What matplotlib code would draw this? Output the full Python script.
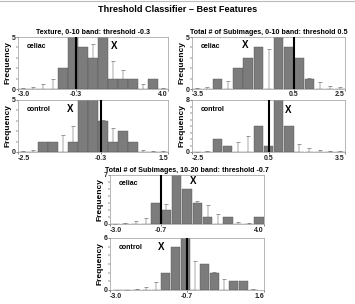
import numpy as np
import matplotlib
matplotlib.use("Agg")
import matplotlib.pyplot as plt

plt.rcParams['font.family'] = ['Liberation Sans', 'DejaVu Sans']
plt.rcParams['font.weight'] = 'bold'
plt.rcParams['axes.titleweight'] = 'bold'
plt.rcParams['axes.labelweight'] = 'bold'

# ---- data (15 histogram bins per panel) ----
# texture, 0-10 band
tex_cel_bar = [0, 0, 0, 0, 2, 5, 4, 3, 5, 1, 1, 1, 0, 1, 0]
tex_cel_thin = [0.05, 0.15, 0.5, 1.0, 0, 0, 0, 4.3, 0, 2.7, 1.8, 0, 0.5, 0, 0.1]
tex_con_bar = [0, 0, 1, 1, 0, 1, 5, 5, 3, 1, 2, 1, 0, 0, 0]
tex_con_thin = [0.05, 0.15, 0, 0, 1.6, 2.5, 0, 0, 3.1, 2.3, 0, 0, 0.2, 0.05, 0.05]

# total # of subimages, 0-10 band
sub_cel_bar = [0, 0, 1, 0, 2, 3, 4, 0, 5, 4, 3, 1, 0, 0, 0]
sub_cel_thin = [0.05, 0.2, 0, 0.8, 0, 0, 0, 3.8, 0, 0, 0, 1.1, 0.7, 0.3, 0.2]
sub_con_bar = [0, 0, 2, 1, 0, 0, 4, 1, 8, 4, 0, 0, 0, 0, 0]
sub_con_thin = [0.05, 0.1, 0, 0, 1.6, 2.4, 0, 0, 0, 0, 1.3, 0.6, 0.3, 0.15, 0.15]

# total # of subimages, 10-20 band
sub2_cel_bar = [0, 0, 0, 0, 3, 2, 7, 5, 3, 1, 0, 1, 0, 0, 1]
sub2_cel_thin = [0.05, 0.2, 0.4, 0.9, 0, 2.9, 0, 0, 3.3, 2.7, 1.5, 0, 0.25, 0.1, 0]
sub2_con_bar = [0, 0, 0, 0, 0, 2, 5, 6, 0, 3, 2, 0, 1, 1, 0]
sub2_con_thin = [0.05, 0.05, 0.15, 0.4, 0.9, 0, 0, 0, 3.4, 0, 2.1, 1.3, 0, 0, 0.1]

titles = ["Texture, 0-10 band: threshold -0.3",
          "Total # of Subimages, 0-10 band: threshold 0.5",
          "Total # of Subimages, 10-20 band: threshold -0.7"]

# panel: (bars, thin bars, xlim, bin start, bin width, threshold, ymax, label, X mark)
panels = [
    (tex_cel_bar, tex_cel_thin, (-3.0, 4.0), -3.0, 7 / 15, -0.3, 5, "celiac", (1.5, 4.1)),
    (tex_con_bar, tex_con_thin, (-2.5, 1.5), -2.5, 4 / 15, -0.3, 5, "control", (-1.12, 4.1)),
    (sub_cel_bar, sub_cel_thin, (-3.5, 2.5), -3.5, 6 / 15, 0.5, 5, "celiac", (-1.41, 4.2)),
    (sub_con_bar, sub_con_thin, (-2.5, 3.5), -2.5, 6 / 15, 0.5, 8, "control", (1.26, 6.4)),
    (sub2_cel_bar, sub2_cel_thin, (-3.0, 4.0), -3.0, 7 / 15, -0.7, 7, "celiac", (0.78, 6.1)),
    (sub2_con_bar, sub2_con_thin, (-3.0, 1.6), -2.93, 0.29, -0.7, 6, "control", (-1.46, 5.0)),
]

W, H = 355, 304
fig = plt.figure(figsize=(W / 100, H / 100), dpi=100)

# axes boxes in pixels: left, top, right, bottom
boxes = [(18, 37, 168, 89), (18, 100, 168, 152),
         (192, 37, 345, 89), (192, 100, 345, 152),
         (110, 175, 264, 224), (110, 238, 264, 290)]

axes = []
for (l, t, r, b) in boxes:
    axes.append(fig.add_axes([l / W, 1 - b / H, (r - l) / W, (b - t) / H]))

for ax, (bars, thin, xlim, start, width, thr, ymax, label, xm) in zip(axes, panels):
    centers = start + width * (np.arange(len(bars)) + 0.5)
    bars = np.array(bars, dtype=float)
    thin = np.array(thin, dtype=float)
    m = thin > 0
    # thin bars sit behind the class histogram
    ax.vlines(centers[m], 0, thin[m], color='#c8c8c8', lw=1.1, zorder=1)
    ax.scatter(centers[m], thin[m], marker='_', s=6, color='#8a8a8a',
               linewidths=0.6, zorder=1.5)
    ax.bar(centers, bars, width=width * 0.92, color='#7c7c7c',
           edgecolor='#555555', linewidth=0.3, zorder=2)
    ax.axvline(thr, color='black', lw=1.5, zorder=5)
    ax.set_xlim(*xlim)
    ax.set_ylim(0, ymax)
    ax.set_xticks([xlim[0], thr, xlim[1]])
    ax.set_xticklabels([f"{xlim[0]:.1f}", f"{thr:.1f}", f"{xlim[1]:.1f}"])
    xt = ax.get_xticklabels()
    xt[0].set_ha('left')
    xt[-1].set_ha('right')
    ax.set_yticks([0, ymax])
    ax.set_yticks(range(1, ymax), minor=True)
    ax.tick_params(axis='both', labelsize=5, length=1.5, width=0.4, pad=0.3,
                   colors='#222222')
    ax.tick_params(axis='y', which='minor', length=1.2, width=0.3)
    for s in ax.spines.values():
        s.set_color('#9a9a9a')
        s.set_linewidth(0.5)
    ax.set_ylabel("Frequency", fontsize=6, labelpad=0.3)
    ax.text(0.06, 0.82, label, transform=ax.transAxes, fontsize=5,
            va='center', ha='left')
    ax.text(xm[0], xm[1], "X", fontsize=7, ha='center', va='center')

for ax, title in zip(axes[0::2], titles):
    ax.set_title(title, fontsize=5.1, pad=2.2)

fig.text(0.5, 1 - 10 / H, "Threshold Classifier \u2013 Best Features",
         ha='center', va='center', fontsize=6.6)
fig.add_artist(plt.Line2D([0, 1], [1 - 1 / H, 1 - 1 / H], color='#bbbbbb',
                          lw=0.8, transform=fig.transFigure))

fig.savefig("out.png", dpi=100)
